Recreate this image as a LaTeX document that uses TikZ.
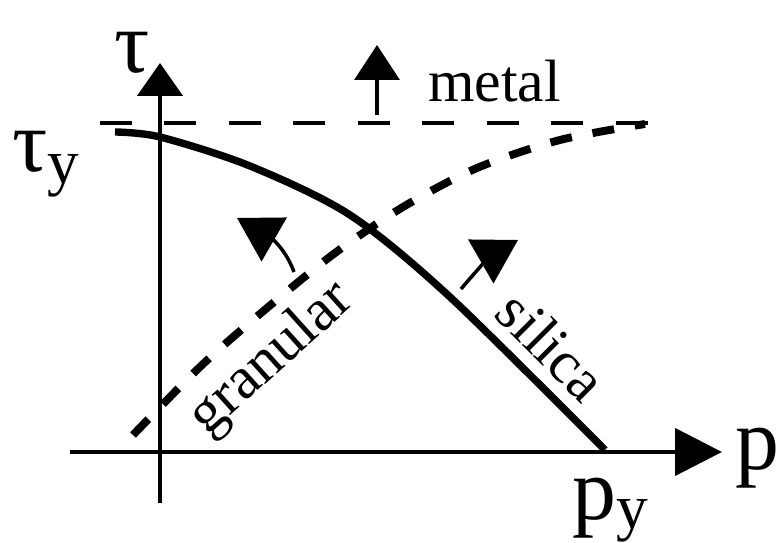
\documentclass[tikz,border=0pt]{standalone}
\usepackage{fontspec}
\setmainfont{Liberation Serif}
\usetikzlibrary{arrows.meta}
\newcommand{\lowy}[1]{\raisebox{-#1}{\fontsize{36}{40}\selectfont y}}

\begin{document}
\begin{tikzpicture}[
x=0.02cm,
y=0.02cm,
axis/.style={line width=2.5pt},
lbl/.style={font=\fontsize{50}{56}\selectfont, inner sep=0pt, anchor=base west},
word/.style={font=\fontsize{34}{40}\selectfont, inner sep=0pt},
silica line/.style={line width=4.2pt},
granular line/.style={line width=4.5pt, dash pattern=on 0.44cm off 0.42cm},
metal line/.style={line width=2pt, dash pattern=on 0.64cm off 0.65cm},
shift arrow/.style={line width=2pt, -{Triangle[length=0.86cm,width=1cm]}}
]

\useasboundingbox (0,0) rectangle (779,543);

% axes
\coordinate (ybot) at (160,40);
\coordinate (ytop) at (160,480);
\coordinate (xleft) at (70,91);
\coordinate (xright) at (722,91);
\draw[axis,-{Triangle[length=0.66cm,width=0.9cm]}] (ybot) -- (ytop);
\draw[axis,-{Triangle[length=0.94cm,width=0.94cm]}] (xleft) -- (xright);

% metal
\coordinate (mleft) at (100,420);
\coordinate (mright) at (650,420);
\draw[metal line] (mleft) -- (mright);
\coordinate (mfoot) at (377,428);
\coordinate (mtip) at (377,498);
\draw[line width=2pt,-{Triangle[length=0.7cm,width=0.9cm]}] (mfoot) -- (mtip);

% silica and granular
\draw[silica line] plot[smooth] coordinates {(115,411) (160,406) (250,377) (350,328) (450,246) (605,93)};
\draw[granular line] plot[smooth] coordinates {(133,108) (202,178) (267,235) (335,290) (403,336) (477,375) (560,403) (645,419)};

\coordinate (gfoot) at (294,271);
\coordinate (gtip) at (237,325);
\draw[shift arrow] (gfoot) to[out=110,in=-30] (gtip);
\coordinate (sfoot) at (461,254);
\coordinate (stip) at (518,303);
\draw[shift arrow] (sfoot) to[out=50,in=-150] (stip);

% labels
\node[lbl] (tau) at (114,470) {τ};
\node[lbl] (tauy) at (12,371) {τ\lowy{0.24cm}};
\node[lbl] (p) at (735,73) {p};
\node[lbl] (py) at (572,23) {p\lowy{0.18cm}};
\node[word, anchor=base west] (metal) at (428,441) {metal};
\node[word, rotate=42] (granular) at (272,184) {granular};
\node[word, rotate=-45] (silica) at (552,197) {silica};

\end{tikzpicture}
\end{document}
